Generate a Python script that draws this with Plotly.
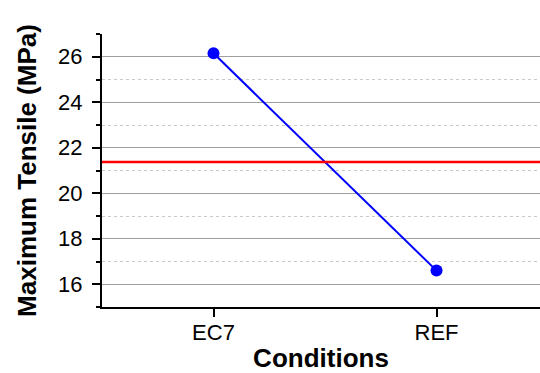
import plotly.graph_objects as go

conditions = ["EC7", "REF"]
max_tensile = [26.15, 16.6]
mean_value = 21.375

fig = go.Figure()
fig.add_trace(go.Scatter(
    x=conditions, y=max_tensile, mode="lines+markers",
    line=dict(color="#0000ff", width=2),
    marker=dict(color="#0000ff", size=12),
    showlegend=False,
))
fig.add_hline(y=mean_value, line=dict(color="#ff0000", width=2.5), layer="above")

font_family = "Liberation Sans, Arial, sans-serif"
fig.update_layout(
    width=540, height=373,
    margin=dict(l=102, r=0, t=34, b=66),
    paper_bgcolor="white", plot_bgcolor="white",
    font=dict(family=font_family, color="black"),
    xaxis=dict(
        type="category", range=[-0.5, 1.464],
        showline=True, linecolor="black", linewidth=2,
        ticks="outside", ticklen=8, tickwidth=2, tickcolor="black",
        tickfont=dict(size=22), ticklabelstandoff=-3,
        showgrid=False, zeroline=False,
        title=dict(text="<b>Conditions</b>", font=dict(size=26), standoff=10),
    ),
    yaxis=dict(
        range=[15, 27], tickvals=[16, 18, 20, 22, 24, 26],
        showline=True, linecolor="black", linewidth=2,
        ticks="outside", ticklen=8, tickwidth=2, tickcolor="black",
        tickfont=dict(size=22), ticklabelstandoff=5,
        showgrid=True, gridcolor="#a0a0a0", gridwidth=1, zeroline=False,
        minor=dict(tickvals=[15, 17, 19, 21, 23, 25, 27], ticks="outside", ticklen=4,
                   tickwidth=2, tickcolor="black",
                   showgrid=True, gridcolor="#c8c8c8", griddash="dot", gridwidth=1),
        title=dict(text="<b>Maximum Tensile (MPa)</b>", font=dict(size=26), standoff=14),
    ),
)
fig.write_html("out.html", config={"displayModeBar": False},
               post_script="document.body.style.margin='0';document.body.style.overflow='hidden';")
